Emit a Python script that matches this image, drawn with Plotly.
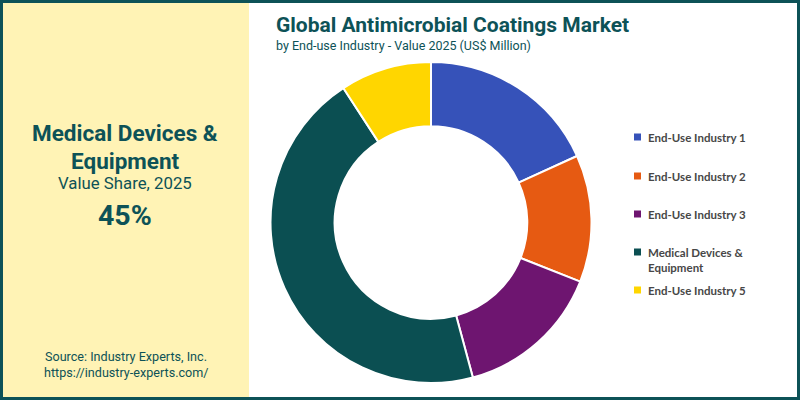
import plotly.graph_objects as go

categories = ["End-Use Industry 1", "End-Use Industry 2", "End-Use Industry 3",
              "Medical Devices &<br>Equipment", "End-Use Industry 5"]
values = [18.2, 12.8, 14.8, 45.0, 9.2]
colors = ["#3652B9", "#E65A12", "#6E1570", "#0B4F52", "#FFD600"]

W, H = 800, 400
teal = "#0D5257"

fig = go.Figure()
fig.add_trace(go.Pie(
    labels=categories, values=values, hole=0.6, sort=False,
    direction="clockwise", rotation=0,
    marker=dict(colors=colors, line=dict(color="white", width=2)),
    textinfo="none", hoverinfo="label+percent", showlegend=False,
    domain=dict(x=[270 / W, 592 / W], y=[1 - 383 / H, 1 - 62 / H]),
))

shapes = [
    dict(type="rect", xref="paper", yref="paper", x0=0, x1=249 / W, y0=0, y1=1,
         fillcolor="#FFF3B5", line=dict(width=0), layer="below"),
    dict(type="rect", xref="paper", yref="paper", x0=0, x1=1, y0=0, y1=1,
         fillcolor="rgba(0,0,0,0)", line=dict(color=teal, width=6)),
]
annotations = []

# Legend (built from categories/colors)
leg_y = [137, 176, 214, 252, 290]
for cat, col, yy in zip(categories, colors, leg_y):
    shapes.append(dict(type="rect", xref="paper", yref="paper",
                       x0=634 / W, x1=641 / W, y0=1 - (yy + 3.5) / H, y1=1 - (yy - 3.5) / H,
                       fillcolor=col, line=dict(width=0)))
    annotations.append(dict(x=646 / W, y=1 - (yy - 8) / H, xref="paper", yref="paper",
                            xanchor="left", yanchor="top", align="left", showarrow=False,
                            text=cat, font=dict(family="Lato", size=11.5, color="#474747",
                                                weight="bold")))

def txt(x, y, s, size, bold=False, anchor="center", family="Roboto"):
    annotations.append(dict(x=x / W, y=1 - y / H, xref="paper", yref="paper",
                            xanchor=anchor, yanchor="middle", showarrow=False, text=s,
                            font=dict(family=family, size=size, color=teal,
                                      weight="bold" if bold else "normal")))

txt(274, 25, "Global Antimicrobial Coatings Market", 21, True, "left")
txt(274, 45, "by End-use Industry - Value 2025 (US$ Million)", 12.5, False, "left")
txt(125, 133, "Medical Devices &", 22.5, True)
txt(125, 161, "Equipment", 22.5, True)
txt(125, 183, "Value Share, 2025", 16.8)
txt(125, 215, "45%", 28.5, True)
txt(126, 356, "Source: Industry Experts, Inc.", 12.6)
txt(126, 372, "https://industry-experts.com/", 12.6)

fig.update_layout(width=W, height=H, margin=dict(l=0, r=0, t=0, b=0),
                  paper_bgcolor="white", plot_bgcolor="white",
                  shapes=shapes, annotations=annotations, showlegend=False)
fig.write_html("out.html")
